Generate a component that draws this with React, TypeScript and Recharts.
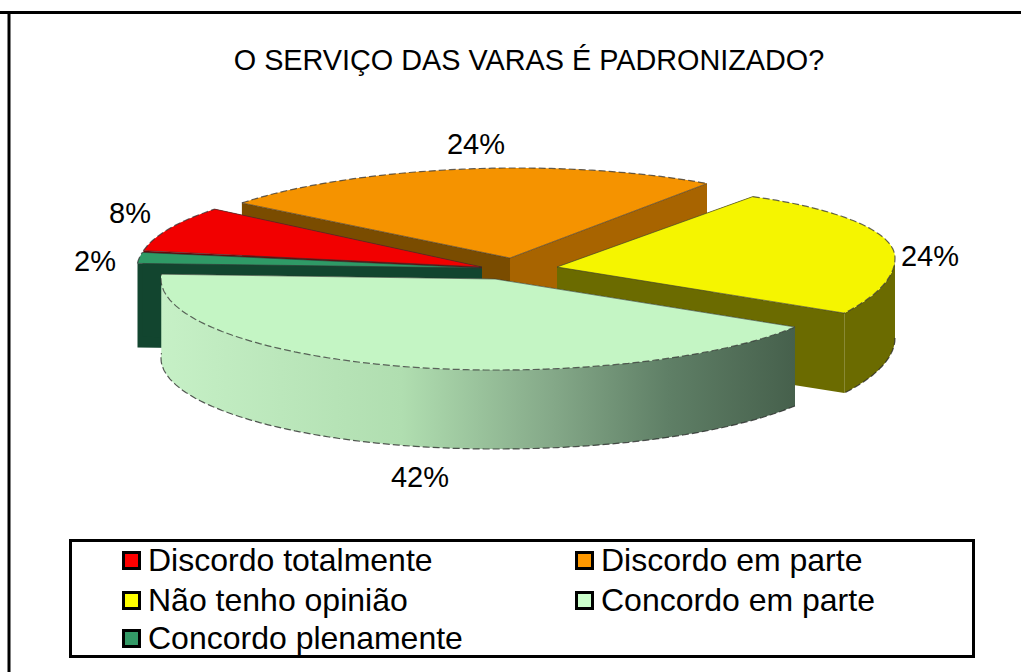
import { Legend, Pie, PieChart } from 'recharts';

const categories = ['Concordo plenamente', 'Discordo totalmente', 'Discordo em parte', 'Não tenho opinião', 'Concordo em parte'];
const percents = [2, 8, 24, 24, 42];

const legendOrder = ['Discordo totalmente', 'Discordo em parte', 'Não tenho opinião', 'Concordo em parte', 'Concordo plenamente'];
// back to front, the exploded slices overlap each other
const drawOrder = ['Discordo em parte', 'Não tenho opinião', 'Discordo totalmente', 'Concordo plenamente', 'Concordo em parte'];

const TOP_COLOR: Record<string, string> = {
  'Discordo totalmente': '#f20000',
  'Discordo em parte': '#f59300',
  'Não tenho opinião': '#f5f500',
  'Concordo em parte': '#c4f5c4',
  'Concordo plenamente': '#2f9a66',
};

const LEGEND_COLOR: Record<string, string> = {
  'Discordo totalmente': '#ff0000',
  'Discordo em parte': '#ff9900',
  'Não tenho opinião': '#ffff00',
  'Concordo em parte': '#ccffcc',
  'Concordo plenamente': '#339966',
};

// wall colours: [start edge, end edge, outer arc]
const WALL_COLOR: Record<string, string[]> = {
  'Discordo totalmente': ['#7a0000', '#7a0000', '#7a0000'],
  'Discordo em parte': ['#7a4c00', '#a86400', '#a86400'],
  'Não tenho opinião': ['#6b6b00', '#6b6b00', '#6b6b00'],
  'Concordo em parte': ['#c4f0c4', '#c4f0c4', 'url(#wallGreen)'],
  'Concordo plenamente': ['#12452f', '#12452f', '#12452f'],
};

// how each slice sits after the 3D explode: offset from chart centre and projected radii
const PROJECTION: Record<string, { dx: number; dy: number; rxL: number; rxR: number; ryT: number; ryB: number; skew: number; depth: number }> = {
  'Concordo plenamente': { dx: 0, dy: 0, rxL: 345, rxR: 345, ryT: 88, ryB: 88, skew: 0, depth: 84 },
  'Discordo totalmente': { dx: 0, dy: -1, rxL: 344, rxR: 344, ryT: 92, ryB: 92, skew: 0, depth: 40 },
  'Discordo em parte': { dx: 28, dy: -10, rxL: 345, rxR: 340, ryT: 90, ryB: 90, skew: -2, depth: 80 },
  'Não tenho opinião': { dx: 75, dy: -1, rxL: 335, rxR: 338, ryT: 80, ryB: 102, skew: -9, depth: 80 },
  'Concordo em parte': { dx: 13, dy: 11, rxL: 334, rxR: 353, ryT: 91, ryB: 91, skew: 0, depth: 79 },
};

const LABEL_OFFSET: Record<string, { dx: number; dy: number }> = {
  'Concordo plenamente': { dx: -387, dy: -7 },
  'Discordo totalmente': { dx: -352, dy: -55 },
  'Discordo em parte': { dx: -6, dy: -124 },
  'Não tenho opinião': { dx: 448, dy: -12 },
  'Concordo em parte': { dx: -62, dy: 209 },
};

const FONT = '"Liberation Sans", Arial, sans-serif';

function Slice3D(props: any) {
  const { cx, cy, startAngle, endAngle, name } = props;
  const p = PROJECTION[name];
  const tipX = cx + p.dx;
  const tipY = cy + p.dy;
  const at = (deg: number) => {
    const c = Math.cos((deg * Math.PI) / 180);
    const s = Math.sin((deg * Math.PI) / 180);
    return [
      tipX + (c < 0 ? p.rxL : p.rxR) * c,
      tipY - (s > 0 ? p.ryT : p.ryB) * s + p.skew * c,
    ];
  };
  const arc: number[][] = [];
  for (let a = startAngle; a > endAngle; a -= 1) arc.push(at(a));
  arc.push(at(endAngle));
  const first = arc[0];
  const last = arc[arc.length - 1];
  const pts = (list: number[][]) => list.map((q) => `${q[0].toFixed(1)},${q[1].toFixed(1)}`).join(' ');
  const drop = (q: number[]) => [q[0], q[1] + p.depth];

  const front: number[][] = [];
  for (let a = Math.min(startAngle, 0); a > endAngle; a -= 1) front.push(at(a));
  front.push(at(endAngle));
  const hasFront = startAngle <= 0 || endAngle < 0;
  const walls = WALL_COLOR[name];
  const tip = [tipX, tipY];

  return (
    <g>
      <polygon points={pts([tip, first, drop(first), drop(tip)])} fill={walls[0]} />
      <polygon points={pts([tip, last, drop(last), drop(tip)])} fill={walls[1]} />
      {hasFront && (
        <polygon points={pts([...front, ...front.map(drop).reverse()])} fill={walls[2]} />
      )}
      {hasFront && (
        <polyline points={pts(front.map(drop))} fill="none" stroke="#222" strokeOpacity={0.75} strokeWidth={1.2} strokeDasharray="7 3" />
      )}
      <polygon points={pts([tip, ...arc])} fill={TOP_COLOR[name]} />
      <polyline points={pts(arc)} fill="none" stroke="#333" strokeOpacity={0.75} strokeWidth={1.2} strokeDasharray="7 3" />
      <polyline points={pts([first, tip, last])} fill="none" stroke="#333" strokeOpacity={0.6} strokeWidth={1} />
    </g>
  );
}

function PercentLabel(props: any) {
  const { cx, cy, name, value } = props;
  const off = LABEL_OFFSET[name];
  return (
    <text x={cx + off.dx} y={cy + off.dy} textAnchor="middle" dominantBaseline="central" fontFamily={FONT} fontSize={29} fill="#000">
      {`${value}%`}
    </text>
  );
}

function LegendBox() {
  return (
    <div
      style={{
        position: 'absolute',
        left: 69,
        top: 539,
        width: 900,
        height: 113,
        border: '3px solid #000',
        fontFamily: FONT,
        fontSize: 32,
        color: '#000',
      }}
    >
      {legendOrder.map((name, i) => (
        <div
          key={name}
          style={{
            position: 'absolute',
            left: i % 2 === 0 ? 50 : 503,
            top: [-1, 39, 77][Math.floor(i / 2)],
            display: 'flex',
            alignItems: 'center',
            lineHeight: '38px',
            whiteSpace: 'nowrap',
          }}
        >
          <span
            style={{
              display: 'inline-block',
              width: 13,
              height: 13,
              border: '3px solid #000',
              background: LEGEND_COLOR[name],
              marginRight: 7,
              marginTop: 0,
            }}
          />
          {name}
        </div>
      ))}
    </div>
  );
}

export default function App() {
  const data = categories.map((name, i) => ({ name, value: percents[i] }));
  return (
    <div style={{ position: 'absolute', left: 0, top: 0, width: 1021, height: 672, background: '#fff', overflow: 'hidden' }}>
      <PieChart width={1021} height={672} margin={{ top: 0, right: 0, bottom: 0, left: 0 }}>
        <defs>
          <linearGradient id="wallGreen" gradientUnits="userSpaceOnUse" x1="161" y1="0" x2="795" y2="0">
            <stop offset="0" stopColor="#c6f0c6" />
            <stop offset="0.38" stopColor="#b0deb0" />
            <stop offset="0.62" stopColor="#84a888" />
            <stop offset="0.8" stopColor="#5f7f66" />
            <stop offset="1" stopColor="#46604c" />
          </linearGradient>
        </defs>
        <line x1={0} y1={12.5} x2={1021} y2={12.5} stroke="#000" strokeWidth={3} />
        <line x1={9} y1={11} x2={9} y2={672} stroke="#000" strokeWidth={3} />
        <text x={529} y={70} textAnchor="middle" fontFamily={FONT} fontSize={28.8} fill="#000">
          O SERVIÇO DAS VARAS É PADRONIZADO?
        </text>
        {drawOrder.map((layer, i) => {
          const shape = (props: any) => (props.name === layer ? <Slice3D {...props} /> : <g />);
          return (
            <Pie
              key={layer}
              data={data}
              dataKey="value"
              nameKey="name"
              cx={482}
              cy={268}
              outerRadius={100}
              startAngle={177}
              endAngle={-183}
              stroke="none"
              isAnimationActive={false}
              shape={shape}
              inactiveShape={shape}
              activeShape={shape}
              labelLine={false}
              label={i === drawOrder.length - 1 ? PercentLabel : false}
              legendType="none"
            />
          );
        })}
        <Legend content={() => <LegendBox />} wrapperStyle={{ position: 'absolute', left: 0, top: 0, width: 0, height: 0 }} />
      </PieChart>
    </div>
  );
}
